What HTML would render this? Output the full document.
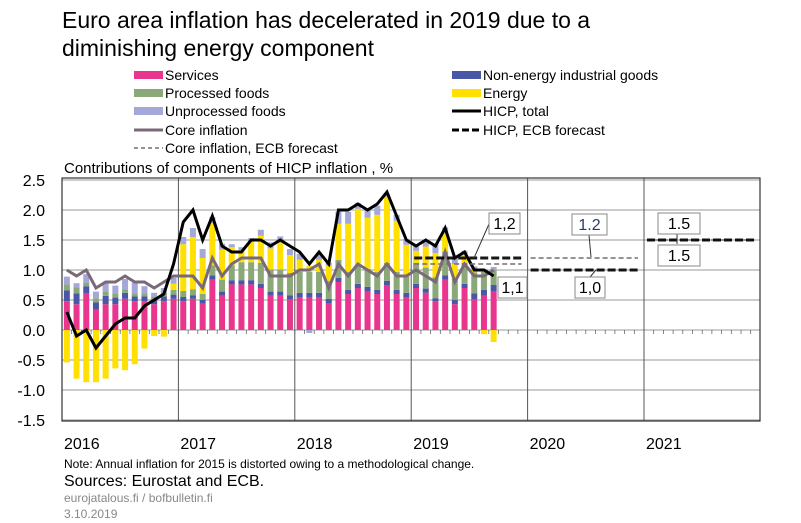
<!DOCTYPE html>
<html><head><meta charset="utf-8">
<style>
body{margin:0;background:#fff;font-family:"Liberation Sans",Arial,sans-serif;}
#wrap{position:relative;width:801px;height:523px;overflow:hidden;}
</style></head>
<body>
<div id="wrap">
<svg id="chart" width="801" height="523" xmlns="http://www.w3.org/2000/svg" font-family="Liberation Sans, Arial, sans-serif">
<text x="62" y="28" font-size="23" fill="#000">Euro area inflation has decelerated in 2019 due to a</text>
<text x="62" y="56" font-size="23" fill="#000">diminishing energy component</text>
<g id="legend" font-size="14">
<g><rect x="134" y="71" width="29" height="8" fill="#e8368f"/><text x="165" y="80">Services</text></g>
<g><rect x="134" y="89" width="29" height="8" fill="#8aa878"/><text x="165" y="98">Processed foods</text></g>
<g><rect x="134" y="107" width="29" height="8" fill="#a3a8d8"/><text x="165" y="116">Unprocessed foods</text></g>
<g><line x1="134" y1="130" x2="163" y2="130" stroke="#7a6a78" stroke-width="3"/><text x="165" y="135">Core inflation</text></g>
<g><line x1="134" y1="148" x2="163" y2="148" stroke="#7a6a78" stroke-width="1.5" stroke-dasharray="4,3"/><text x="165" y="153">Core inflation, ECB forecast</text></g>
<g><rect x="452" y="71" width="29" height="8" fill="#4a56a6"/><text x="483" y="80">Non-energy industrial goods</text></g>
<g><rect x="452" y="89" width="29" height="8" fill="#ffe000"/><text x="483" y="98">Energy</text></g>
<g><line x1="452" y1="111" x2="481" y2="111" stroke="#000" stroke-width="3"/><text x="483" y="116">HICP, total</text></g>
<g><line x1="452" y1="130" x2="481" y2="130" stroke="#000" stroke-width="3" stroke-dasharray="7,3"/><text x="483" y="135">HICP, ECB forecast</text></g>
</g>
<text x="64" y="173" font-size="15">Contributions of components of HICP inflation , %</text>
<g id="grid"></g>
<g id="bars"></g>
<g id="lines"></g>
<g id="fc"></g>
<g id="axes"></g>
<text x="64" y="468" font-size="12">Note: Annual  inflation  for 2015 is distorted owing to a methodological  change.</text>
<text x="64" y="486" font-size="16">Sources: Eurostat and ECB.</text>
<text x="64" y="502" font-size="12" fill="#888">eurojatalous.fi  / bofbulletin.fi</text>
<text x="64" y="518" font-size="12" fill="#888">3.10.2019</text>
</svg>
</div>
<script>
const years=["2016","2017","2018","2019","2020","2021"];
const yTicks=[2.5,2.0,1.5,1.0,0.5,0.0,-0.5,-1.0,-1.5];
const services=[0.48,0.43,0.61,0.34,0.43,0.43,0.52,0.48,0.48,0.43,0.48,0.52,
0.48,0.52,0.44,0.84,0.57,0.76,0.76,0.76,0.7,0.57,0.57,0.51,
0.55,0.55,0.55,0.45,0.8,0.6,0.7,0.65,0.6,0.75,0.6,0.55,
0.7,0.62,0.48,0.84,0.43,0.7,0.51,0.57,0.65];
const neig=[0.18,0.18,0.12,0.12,0.14,0.11,0.1,0.08,0.08,0.08,0.08,0.07,
0.07,0.06,0.06,0.07,0.07,0.07,0.07,0.07,0.07,0.07,0.07,0.07,
0.07,0.07,0.07,0.07,0.07,0.07,0.07,0.07,0.07,0.07,0.07,0.07,
0.07,0.07,0.05,0.07,0.07,0.07,0.1,0.1,0.1];
const processed=[0.1,0.1,0.06,0.07,0.07,0.06,0.06,0.05,0.05,0.05,0.07,0.08,
0.1,0.1,0.1,0.17,0.2,0.25,0.3,0.3,0.35,0.37,0.37,0.37,
0.35,0.35,0.35,0.3,0.3,0.3,0.3,0.3,0.3,0.3,0.3,0.3,
0.35,0.35,0.35,0.4,0.35,0.35,0.35,0.3,0.25];
const energy=[-0.54,-0.81,-0.87,-0.87,-0.81,-0.64,-0.67,-0.57,-0.31,-0.1,-0.11,0.1,
0.78,0.87,0.6,0.7,0.5,0.3,0.2,0.35,0.45,0.35,0.45,0.3,
0.2,0.1,0.2,0.25,0.6,0.8,0.95,0.85,0.95,1.1,0.85,0.5,
0.2,0.35,0.4,0.3,0.25,0.15,0.05,-0.07,-0.2];
const unprocessed=[0.13,0.07,0.14,0.11,0.14,0.14,0.17,0.18,0.12,0.06,0.07,0.1,
0.12,0.15,0.15,0.1,0.1,0.05,0.05,0.05,0.1,0.1,0.1,0.1,
0.1,-0.05,0.1,0.05,0.2,0.2,0.1,0.15,0.15,0.05,0.1,0.1,
0.1,0.1,0.15,0.1,0.1,0.05,0.05,0.05,0.05];
const hicp=[0.3,-0.1,0.0,-0.3,-0.1,0.1,0.2,0.2,0.4,0.5,0.6,1.1,
1.8,2.0,1.5,1.9,1.4,1.3,1.3,1.5,1.5,1.4,1.5,1.4,
1.3,1.1,1.3,1.1,2.0,2.0,2.1,2.0,2.1,2.3,1.9,1.5,
1.4,1.5,1.4,1.7,1.2,1.3,1.0,1.0,0.9];
const core=[1.0,0.9,1.0,0.7,0.8,0.8,0.9,0.8,0.8,0.7,0.8,0.9,
0.9,0.9,0.7,1.2,0.9,1.1,1.2,1.2,1.2,0.9,0.9,0.9,
1.0,1.0,1.1,0.7,1.1,0.9,1.1,1.0,0.9,1.1,0.9,0.9,
1.0,0.9,0.8,1.3,0.8,1.1,0.9,0.9,1.0];
const fcYears=[2019,2020,2021];
const hicpFc=[1.2,1.0,1.5];
const coreFc=[1.1,1.2,1.5];
const hicpFcLabels=["1,2","1,0","1.5"];
const coreFcLabels=["1,1","1.2","1.5"];

const NS="http://www.w3.org/2000/svg";
const X0=62,X1=760,YW=116.4,MW=YW/12;
function y(v){return 330-v*60;}
function xm(i){return X0+(i+0.5)*MW;}
function xy(yr){return X0+(yr-2016)*YW;}
function mk(tag,attrs,parent){const e=document.createElementNS(NS,tag);for(const k in attrs)e.setAttribute(k,attrs[k]);parent.appendChild(e);return e;}
const grid=document.getElementById('grid'),axes=document.getElementById('axes');
yTicks.forEach(t=>{
 const l=mk('line',{x1:X0,x2:X1,y1:y(t),y2:y(t),stroke:'#999','stroke-width':1},grid);
 
 
 const tx=mk('text',{x:45,y:y(t)+6,'font-size':16,'text-anchor':'end'},axes);
 tx.textContent=t.toFixed(1);
 
 
});
years.forEach((yr,i)=>{
 const xx=X0+i*YW;
 const l=mk('line',{x1:xx,x2:xx,y1:178,y2:421,stroke:'#555','stroke-width':1},grid);
 
 
 const tx=mk('text',{x:xx+2,y:449,'font-size':16},axes);
 tx.textContent=yr;
 
 
});
for(let m=0;m<72;m++){const xx=X0+m*MW;const t=mk('line',{x1:xx,x2:xx,y1:330,y2:334,stroke:'#555','stroke-width':0.7},grid);
 
 }
const fr=mk('rect',{x:X0,y:178,width:X1-X0,height:243,fill:'none',stroke:'#333','stroke-width':1.2},axes);


const bars=document.getElementById('bars');
const series=[[services,'#e8368f','services'],[neig,'#4a56a6','neig'],[processed,'#8aa878','processed-foods'],[energy,'#ffe000','energy'],[unprocessed,'#a3a8d8','unprocessed-foods']];
for(let i=0;i<services.length;i++){
 let pos=0,neg=0;
 series.forEach(([arr,col,nm])=>{
  const v=arr[i];let a,b;
  if(v>=0){a=pos;b=pos+v;pos=b;}else{a=neg;b=neg+v;neg=b;}
  const r=mk('rect',{x:xm(i)-3,y:Math.min(y(a),y(b)),width:6,height:Math.abs(y(a)-y(b)),fill:col},bars);
  
  
 });
}
const lines=document.getElementById('lines');
function poly(arr,col,w,nm){
 const p=mk('polyline',{points:arr.map((v,i)=>xm(i)+','+y(v)).join(' '),fill:'none',stroke:col,'stroke-width':w,'stroke-linejoin':'miter'},lines);
 
 
}
poly(core,'#7a6a78',3,'core-inflation-line');
poly(hicp,'#000',3,'hicp-total-line');
const fc=document.getElementById('fc');
fcYears.forEach((yr,i)=>{
 const xa=xy(yr)+3,xb=xy(yr+1)-6;
 const c=mk('line',{x1:xa,x2:xb,y1:y(coreFc[i]),y2:y(coreFc[i]),stroke:'#7a6a78','stroke-width':1.6,'stroke-dasharray':'5,3'},fc);
 
 
 const h=mk('line',{x1:xa,x2:xb,y1:y(hicpFc[i]),y2:y(hicpFc[i]),stroke:'#000','stroke-width':3,'stroke-dasharray':'8,3','opacity':0.9},fc);
 
 
});
function label(txt,bx,by,w,col,nm,lx,ly){
 if(lx!==undefined){const l=mk('line',{x1:lx[0],y1:lx[1],x2:ly[0],y2:ly[1],stroke:'#333','stroke-width':1},fc);
  
  }
 const g=mk('g',{},fc);
 
 
 mk('rect',{x:bx,y:by,width:w,height:21,fill:'#fff',stroke:'#888','stroke-width':1},g);
 const t=mk('text',{x:bx+w/2,y:by+16,'font-size':16,'text-anchor':'middle',fill:col},g);
 t.textContent=txt;
}
label(hicpFcLabels[0],489,213,31,'#000','label-hicp-2019',[489,224],[474,258]);
label(coreFcLabels[0],498,277,29,'#000','label-core-2019');
label(coreFcLabels[1],572,214,35,'#2a3f5f','label-core-2020',[589,235],[591,257]);
label(hicpFcLabels[1],575,277,30,'#000','label-hicp-2020',[590,277],[596,270]);
label(hicpFcLabels[2],658,213,42,'#000','label-hicp-2021',[677,234],[677,244]);
label(coreFcLabels[2],658,245,42,'#000','label-core-2021');
</script>
</body></html>
